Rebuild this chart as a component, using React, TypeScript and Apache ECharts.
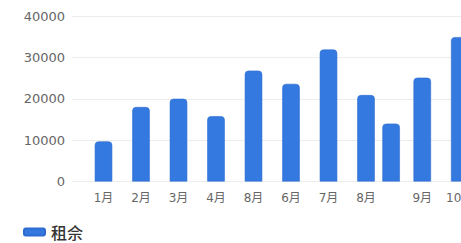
import React, { useEffect, useRef } from "react";
import * as echarts from "echarts";

const categories = ["1月", "2月", "3月", "4月", "8月", "6月", "7月", "8月", "", "9月", "10月"];
const slots = [1, 2, 3, 4, 5, 6, 7, 8, 8.67, 9.5, 10.5];
const values = [9700, 18000, 20000, 15800, 26800, 23600, 31900, 20900, 14000, 25100, 34900];
const seriesName = "租佘";
const yTicks = [0, 10000, 20000, 30000, 40000];

export default function App() {
  const ref = useRef<HTMLDivElement>(null);
  useEffect(() => {
    if (!ref.current) return;
    const chart = echarts.init(ref.current, undefined, { renderer: "svg" });
    const labelSlots = slots.filter((_, i) => categories[i] !== "");
    chart.setOption({
      animation: false,
      backgroundColor: "#ffffff",
      grid: { left: 72, right: 10.25, top: 16, bottom: 61.5, containLabel: false },
      legend: {
        left: 23,
        top: 224,
        padding: 0,
        itemWidth: 21,
        itemHeight: 7,
        icon: "roundRect",
        itemGap: 10,
        textStyle: {
          color: "#333333",
          fontSize: 16,
          fontWeight: 500,
          fontFamily: "Noto Sans CJK SC",
          padding: [0, 0, 0, 1],
        },
        data: [seriesName],
      },
      xAxis: {
        type: "value",
        min: 0.16,
        max: 11.3,
        axisLine: { show: false },
        axisTick: { show: false },
        splitLine: { show: false },
        axisLabel: {
          customValues: labelSlots,
          margin: 10,
          color: "#666666",
          fontSize: 12,
          fontFamily: "DejaVu Sans, Noto Sans CJK SC",
          formatter: (v: number) => {
            const i = slots.findIndex((s) => Math.abs(s - v) < 0.01);
            return i >= 0 ? categories[i] : "";
          },
        },
      },
      yAxis: {
        type: "value",
        min: yTicks[0],
        max: yTicks[yTicks.length - 1],
        interval: 10000,
        axisLine: { show: false },
        axisTick: { show: false },
        splitLine: { lineStyle: { color: "#ececec", width: 1 } },
        axisLabel: {
          margin: 7,
          color: "#666666",
          fontSize: 13,
          fontFamily: "DejaVu Sans",
          formatter: (v: number) => String(v),
        },
      },
      series: [
        {
          name: seriesName,
          type: "bar",
          barWidth: 17.5,
          data: slots.map((s, i) => [s, values[i]]),
          itemStyle: {
            color: "#3479e0",
            borderRadius: [3.5, 3.5, 0, 0],
            borderColor: "#2d6bd0",
            borderWidth: 0.6,
          },
        },
      ],
    });
    return () => chart.dispose();
  }, []);
  return (
    <div style={{ position: "fixed", left: 0, top: 0, width: 461, height: 243, overflow: "hidden", background: "#fff" }}>
      <div ref={ref} style={{ width: 500, height: 243 }} />
    </div>
  );
}
